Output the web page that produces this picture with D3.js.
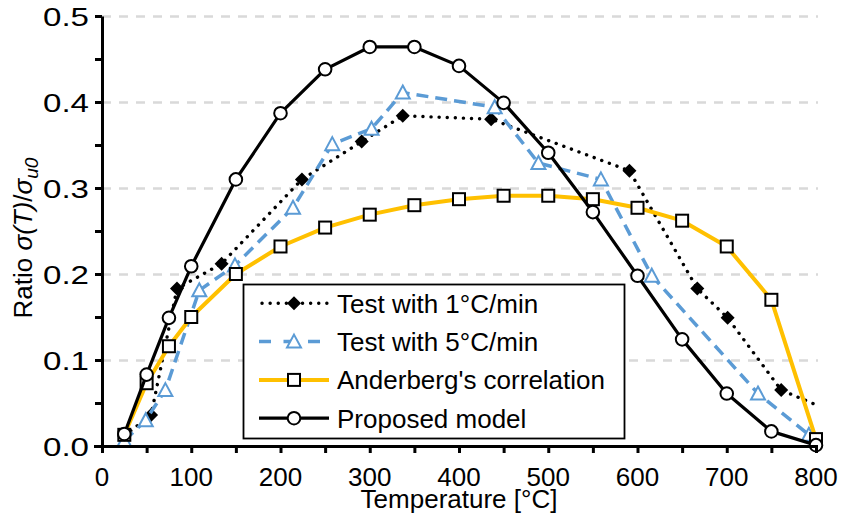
<!DOCTYPE html>
<html>
<head>
<meta charset="utf-8">
<script src="https://cdn.jsdelivr.net/npm/d3@7"></script>
<style>
  body { margin: 0; background: #fff; }
  svg { display: block; font-family: "Liberation Sans", Arial, sans-serif; }
  .tick-label { font-size: 26px; fill: #000; }
  .axis-title { font-size: 26px; fill: #000; }
  .legend-text { font-size: 26px; fill: #000; }
</style>
</head>
<body>
<div class="container"></div>
<script>
// ---- data ----
const xTicks = [0, 100, 200, 300, 400, 500, 600, 700, 800];
const xMinorTicks = [0, 50, 100, 150, 200, 250, 300, 350, 400, 450, 500, 550, 600, 650, 700, 750, 800];
const yTicks = [0, 0.1, 0.2, 0.3, 0.4, 0.5];
const yMinorTicks = [0, 0.05, 0.1, 0.15, 0.2, 0.25, 0.3, 0.35, 0.4, 0.45, 0.5];

const test1Temp = [25, 55, 84, 134, 224, 291, 337, 436, 591, 667, 701, 761, 802];
const test1Ratio = [0.012, 0.036, 0.183, 0.212, 0.310, 0.354, 0.384, 0.380, 0.320, 0.183, 0.149, 0.065, 0.047];
const test1NoMarker = [802];

const test5Temp = [25, 49, 71, 109, 149, 214, 258, 302, 337, 440, 489, 559, 616, 735, 792];
const test5Ratio = [0.006, 0.030, 0.065, 0.181, 0.210, 0.277, 0.351, 0.369, 0.411, 0.394, 0.329, 0.310, 0.198, 0.061, 0.013];

const modelTemp = [25, 50, 75, 100, 150, 200, 250, 300, 350, 400, 450, 500, 550, 600, 650, 700, 750, 800];
const anderbergRatio = [0.013, 0.073, 0.116, 0.150, 0.200, 0.232, 0.254, 0.269, 0.280, 0.287, 0.291, 0.291, 0.287, 0.277, 0.262, 0.232, 0.170, 0.008];
const modelRatio = [0.014, 0.083, 0.149, 0.209, 0.310, 0.387, 0.438, 0.464, 0.464, 0.442, 0.399, 0.341, 0.272, 0.198, 0.124, 0.061, 0.017, 0.001];

const legendLabels = ["Test with 1°C/min", "Test with 5°C/min", "Anderberg's correlation", "Proposed model"];

// ---- setup ----
const width = 842, height = 522;
const plot = { left: 102, right: 816, top: 16, bottom: 446 };

const svg = d3.select(".container")
              .append("svg")
              .attr("width", width)
              .attr("height", height);

const xScale = d3.scaleLinear()
                 .domain([0, 800])
                 .range([plot.left, plot.right]);

const yScale = d3.scaleLinear()
                 .domain([0, 0.5])
                 .range([plot.bottom, plot.top]);

const zip = (xs, ys) => xs.map((x, i) => ({ t: x, v: ys[i] }));

const series = [
  { key: "test1", data: zip(test1Temp, test1Ratio), color: "#000", width: 3.4,
    dash: "0.1 8", cap: "round", marker: "diamond" },
  { key: "test5", data: zip(test5Temp, test5Ratio), color: "#5B9BD5", width: 3.5,
    dash: "12 7", cap: "butt", marker: "triangle" },
  { key: "anderberg", data: zip(modelTemp, anderbergRatio), color: "#FFC000", width: 4,
    dash: null, cap: "butt", marker: "square" },
  { key: "model", data: zip(modelTemp, modelRatio), color: "#000", width: 3.2,
    dash: null, cap: "butt", marker: "circle" }
];

// ---- gridlines ----
svg.append("g")
   .attr("class", "grid")
   .attr("transform", `translate(${plot.left},0)`)
   .call(d3.axisRight(yScale)
           .tickValues(yTicks.filter(d => d > 0))
           .tickSize(plot.right - plot.left + 2)
           .tickFormat(""))
   .call(g => g.select(".domain").remove())
   .call(g => g.selectAll("line")
               .attr("stroke", "#D9D9D9")
               .attr("stroke-width", 2.5)
               .attr("stroke-dasharray", "9 8"));

// ---- markers ----
function drawMarker(sel, type, color) {
  if (type === "diamond") {
    sel.append("path")
       .attr("d", "M0,-7L7,0L0,7L-7,0Z")
       .attr("fill", "#000");
  } else if (type === "triangle") {
    sel.append("path")
       .attr("d", "M0,-7L7,6L-7,6Z")
       .attr("fill", "#fff")
       .attr("stroke", color)
       .attr("stroke-width", 2);
  } else if (type === "square") {
    sel.append("rect")
       .attr("x", -6).attr("y", -6)
       .attr("width", 12).attr("height", 12)
       .attr("fill", "#fff")
       .attr("stroke", "#000")
       .attr("stroke-width", 2);
  } else {
    sel.append("circle")
       .attr("r", 6.3)
       .attr("fill", "#fff")
       .attr("stroke", "#000")
       .attr("stroke-width", 2);
  }
}

const line = d3.line()
               .x(d => xScale(d.t))
               .y(d => yScale(d.v));

series.forEach(s => {
  const g = svg.append("g").attr("class", "series " + s.key);

  g.append("path")
   .datum(s.data)
   .attr("d", line)
   .attr("fill", "none")
   .attr("stroke", s.color)
   .attr("stroke-width", s.width)
   .attr("stroke-linecap", s.cap)
   .attr("stroke-linejoin", "round")
   .attr("stroke-dasharray", s.dash);

  g.selectAll("g.marker")
   .data(s.data.filter(d => !(s.key === "test1" && test1NoMarker.includes(d.t))))
   .join("g")
   .attr("class", "marker")
   .attr("transform", d => `translate(${xScale(d.t)},${yScale(d.v)})`)
   .each(function() { drawMarker(d3.select(this), s.marker, s.color); });
});

// ---- axes ----
svg.append("g")
   .attr("transform", `translate(0,${plot.bottom})`)
   .call(d3.axisBottom(xScale)
           .tickValues(xMinorTicks)
           .tickSize(7)
           .tickSizeOuter(0)
           .tickFormat(""))
   .call(g => g.select(".domain")
               .attr("d", `M${plot.left - 8},0.5H${plot.right + 2}`)
               .attr("stroke-width", 3))
   .call(g => g.selectAll("line").attr("stroke-width", 3));

svg.append("g")
   .attr("transform", `translate(${plot.left},0)`)
   .call(d3.axisLeft(yScale)
           .tickValues(yMinorTicks)
           .tickSize(7)
           .tickSizeOuter(0)
           .tickFormat(""))
   .call(g => g.select(".domain").attr("stroke-width", 3))
   .call(g => g.selectAll("line").attr("stroke-width", 3));

svg.append("g")
   .selectAll("text")
   .data(xTicks)
   .join("text")
   .attr("class", "tick-label")
   .attr("x", d => xScale(d))
   .attr("y", 486)
   .attr("text-anchor", "middle")
   .text(d => d);

// y labels in the reference are drawn wider than the x ones
svg.append("g")
   .selectAll("text")
   .data(yTicks)
   .join("text")
   .attr("class", "tick-label")
   .attr("font-size", 27)
   .attr("x", 89)
   .attr("y", d => yScale(d) + 9.6)
   .attr("text-anchor", "end")
   .attr("textLength", 46)
   .attr("lengthAdjust", "spacingAndGlyphs")
   .text(d => d3.format(".1f")(d));

// ---- axis titles ----
svg.append("text")
   .attr("class", "axis-title")
   .attr("x", (plot.left + plot.right) / 2)
   .attr("y", 508)
   .attr("text-anchor", "middle")
   .text("Temperature [°C]");

const yTitle = svg.append("text")
                  .attr("class", "axis-title")
                  .attr("text-anchor", "middle")
                  .attr("transform", "translate(32,238) rotate(-90)");
yTitle.append("tspan").text("Ratio ");
yTitle.append("tspan").attr("font-style", "italic").text("σ(T)");
yTitle.append("tspan").text("/");
yTitle.append("tspan").attr("font-style", "italic").text("σ");
yTitle.append("tspan")
      .attr("font-style", "italic")
      .attr("font-size", 19)
      .attr("dy", 6)
      .text("u0");

// ---- legend ----
const legend = svg.append("g").attr("class", "legend");

legend.append("rect")
      .attr("x", 243.5)
      .attr("y", 284.5)
      .attr("width", 381)
      .attr("height", 154)
      .attr("fill", "#fff")
      .attr("stroke", "#000")
      .attr("stroke-width", 1.8);

const rows = legend.selectAll("g.row")
                   .data(series)
                   .join("g")
                   .attr("class", "row")
                   .attr("transform", (d, i) => `translate(0,${303.3 + i * 38.3})`);

rows.append("line")
    .attr("x1", d => d.cap === "round" ? 262 : 259)
    .attr("x2", 329)
    .attr("stroke", d => d.color)
    .attr("stroke-width", d => d.width)
    .attr("stroke-linecap", d => d.cap)
    .attr("stroke-dasharray", d => d.key === "test5" ? "12 12.5" : d.dash);

rows.append("g")
    .attr("transform", "translate(294,0)")
    .each(function(d) { drawMarker(d3.select(this), d.marker, d.color); });

rows.append("text")
    .attr("class", "legend-text")
    .attr("x", 337)
    .attr("y", 9.3)
    .text((d, i) => legendLabels[i]);
</script>
</body>
</html>
